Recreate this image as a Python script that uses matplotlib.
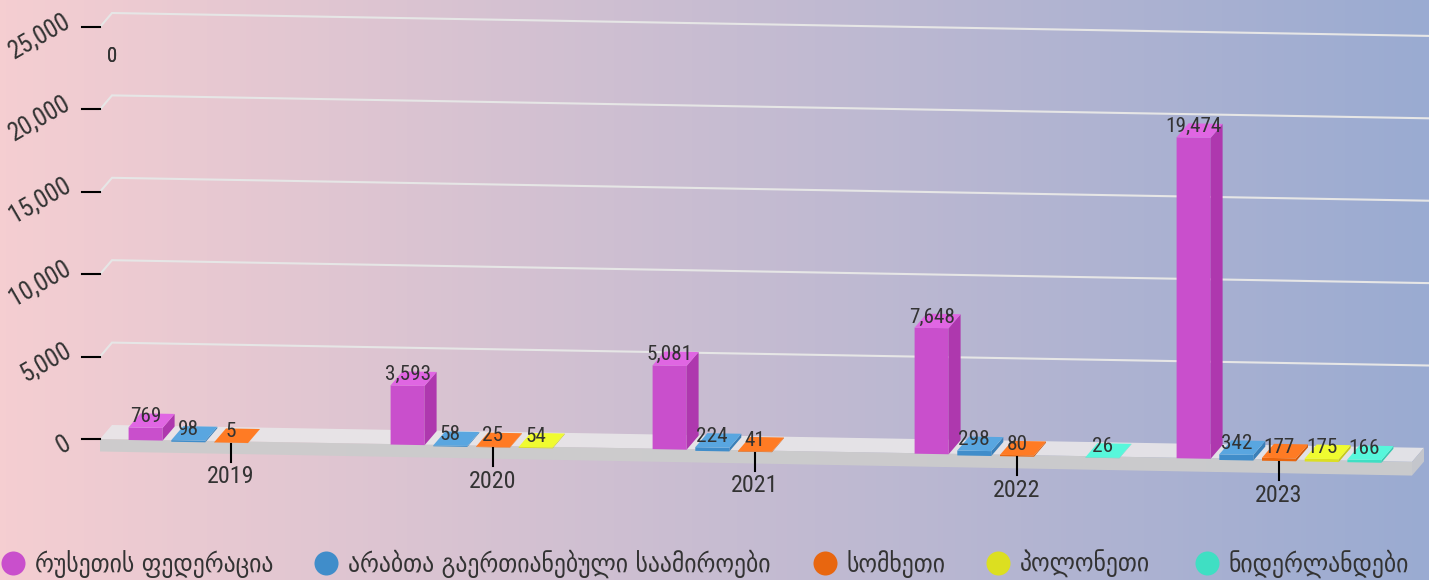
import matplotlib
matplotlib.use('Agg')
import matplotlib.pyplot as plt
import numpy as np
import logging
logging.getLogger('matplotlib.font_manager').setLevel(logging.ERROR)

plt.rcParams['font.family'] = ['Roboto Condensed', 'Noto Sans Georgian', 'DejaVu Sans']

years = ['2019', '2020', '2021', '2022', '2023']
countries = ['რუსეთის ფედერაცია', 'არაბთა გაერთიანებული საამიროები', 'სომხეთი', 'პოლონეთი', 'ნიდერლანდები']
russia = [769, 3593, 5081, 7648, 19474]
uae = [98, 58, 224, 298, 342]
armenia = [5, 25, 41, 80, 177]
poland = [None, 54, None, None, 175]
netherlands = [None, None, None, 26, 166]
y_ticks = [0, 5000, 10000, 15000, 20000, 25000]

front_cols = ['#c94fcc', '#408dca', '#e8660f', '#dcdf20', '#3fdfc3']
side_cols = ['#ae38ae', '#3a7fb8', '#d05a0c', '#c6c91c', '#38c9b0']
top_cols = ['#e066e3', '#59a6e0', '#ff7b24', '#f0fb30', '#57f7db']

# layout, in pixels of the 1429x580 picture
W, H = 1429, 580
GROUP_PX = 262.0     # distance between two years
G0_PX = 231.0        # x of first year
BASE_ROW = 439.0     # row of value 0 at the left edge
LEFT_PX = 100.0
K = 82.4 / 5000      # pixels per unit
SLOPE = 0.0174       # the floor runs downhill to the right
DX, DY = 12.0, 14.0  # depth of the 3d box


def gx(px):
    return (px - G0_PX) / GROUP_PX


def vy(row):
    return (BASE_ROW - row) / K


def pt(g, v, d=0.0):
    # group position + value -> data coords, with slope and depth added
    px = G0_PX + g * GROUP_PX
    return g + d * DX / GROUP_PX, v - SLOPE * (px - LEFT_PX) / K + d * DY / K


def box(g0, g1, v0, v1, col_front, col_side, col_top, z):
    pts = [pt(g0, v0), pt(g1, v0), pt(g1, v1), pt(g0, v1)]
    ax.fill(*zip(*pts), color=col_front, lw=0, zorder=z)
    pts = [pt(g1, v0), pt(g1, v0, 1), pt(g1, v1, 1), pt(g1, v1)]
    ax.fill(*zip(*pts), color=col_side, lw=0, zorder=z)
    pts = [pt(g0, v1), pt(g1, v1), pt(g1, v1, 1), pt(g0, v1, 1)]
    ax.fill(*zip(*pts), color=col_top, lw=0, zorder=z)


fig = plt.figure(figsize=(W / 100, H / 100), dpi=100)
ax = fig.add_axes([0, 0, 1, 1])
ax.axis('off')

# background
grad = np.array([[245, 206, 209], [154, 171, 210]]) / 255.0
ax.imshow(np.linspace(grad[0], grad[1], 256)[None, :, :], extent=[0, 1, 0, 1],
          transform=ax.transAxes, aspect='auto', zorder=0)
ax.set_xlim(gx(0), gx(W))
ax.set_ylim(vy(H), vy(0))

g_left = gx(LEFT_PX)
g_right = gx(1412)
text_col = '#333333'

# grid and left wall
for v in y_ticks[1:]:
    xs, ys = zip(pt(g_left, v), pt(g_left, v, 1), pt(gx(W - 6), v, 1))
    ax.plot(xs, ys, color='#e6e6e6', lw=1.5, zorder=1, solid_joinstyle='miter')

# floor
thick = 12.5 / K
ax.fill(*zip(pt(g_left, 0), pt(g_right, 0), pt(g_right, 0, 1), pt(g_left, 0, 1)),
        color='#e8e6e8', alpha=0.92, lw=0, zorder=2)
ax.fill(*zip(pt(g_left, 0), pt(g_right, 0), pt(g_right, -1.1 * thick), pt(g_left, -thick)),
        color='#cccccc', alpha=0.95, lw=0, zorder=2)
ax.fill(*zip(pt(g_right, 0), pt(g_right, 0, 1), pt(g_right, -1.1 * thick, 1), pt(g_right, -1.1 * thick)),
        color='#c4c6cc', lw=0, zorder=2)

# y axis
for v in y_ticks:
    x0, y0 = pt(g_left, v)
    ax.plot([gx(82), gx(LEFT_PX)], [y0, y0], color='black', lw=1.5, zorder=3)
    off = 8 if v > 0 else -3
    ax.text(gx(69), y0 + off / K, f'{v:,}', rotation=30, rotation_mode='anchor',
            ha='right', va='center', fontsize=18.2, color=text_col, zorder=6)

# stray zero label of the original, printed twice
for i in range(2):
    ax.text(gx(112 + 0.5 * i), vy(56), '0', ha='center', va='center', fontsize=15,
            color=text_col, zorder=6)

# bars
bar_w = 34.0 / GROUP_PX
slot = 42.7 / GROUP_PX
series = [russia, uae, armenia, poland, netherlands]
for s, vals in enumerate(series):
    drop = -0.5 / K if s == 0 else -1.5 / K
    for i, v in enumerate(vals):
        if v is None:
            continue
        g = i + (s - 2) * slot
        box(g - bar_w / 2, g + bar_w / 2, drop, drop + v, front_cols[s], side_cols[s],
            top_cols[s], 4 + 0.1 * s)
        tx, ty = pt(g, drop + v)
        ax.text(tx, ty + 11 / K, f'{v:,}', ha='center', va='center', fontsize=15.3,
                color=text_col, zorder=6)

# x axis
for i, year in enumerate(years):
    x0, y0 = pt(i, -2.5 / K)
    ax.plot([x0, x0], [y0, y0 - 18 / K], color='black', lw=1.5, zorder=5)
    ax.text(x0, y0 - 33 / K, year, ha='center', va='center', fontsize=17.3,
            color=text_col, zorder=6)

# legend
marker_px = [13, 326, 825, 998, 1207]
for name, col, mx in zip(countries, front_cols, marker_px):
    ax.scatter([gx(mx)], [vy(563)], s=299, color=col, lw=0, zorder=6)
    ax.text(gx(mx + 22), vy(564), name, ha='left', va='center', fontsize=19,
            family='DejaVu Sans', stretch='condensed', color=text_col, zorder=6)

fig.savefig('out.png', dpi=100)
